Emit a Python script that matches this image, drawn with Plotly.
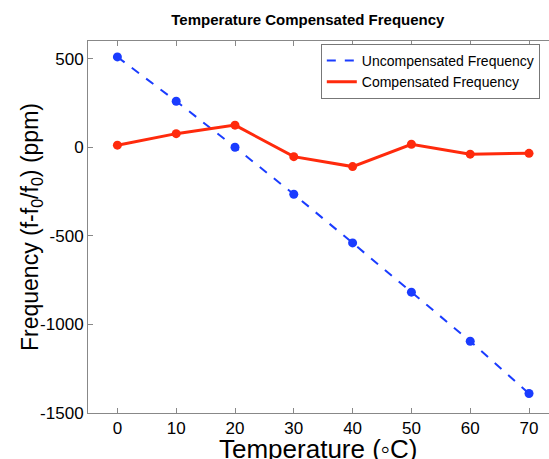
import plotly.graph_objects as go

temperature = [0, 10, 20, 30, 40, 50, 60, 70]
uncompensated = [510, 260, 0, -265, -540, -818, -1095, -1390]
compensated = [12, 77, 125, -53, -109, 17, -39, -34]

x_ticks = [0, 10, 20, 30, 40, 50, 60, 70]
y_ticks = [500, 0, -500, -1000, -1500]
y_tick_labels = ["500", "0", "-500", "-1000", "-1500"]

BLUE = "#1a3cff"
RED = "#ff2a0c"
FONT = "Liberation Sans, Arial, sans-serif"

fig = go.Figure()
fig.add_trace(go.Scatter(x=temperature, y=uncompensated, mode="lines+markers",
                         line=dict(color=BLUE, width=2, dash="dash"),
                         marker=dict(color=BLUE, size=9), showlegend=False))
fig.add_trace(go.Scatter(x=temperature, y=compensated, mode="lines+markers",
                         line=dict(color=RED, width=3),
                         marker=dict(color=RED, size=9), showlegend=False))
# legend-only entries (lines only)
fig.add_trace(go.Scatter(x=[None], y=[None], mode="lines", name="Uncompensated Frequency",
                         line=dict(color=BLUE, width=2, dash="dash")))
fig.add_trace(go.Scatter(x=[None], y=[None], mode="lines", name="Compensated Frequency",
                         line=dict(color=RED, width=3)))

fig.update_layout(
    width=549, height=459,
    margin=dict(l=88, r=0, t=41, b=46, autoexpand=False),
    paper_bgcolor="white", plot_bgcolor="white",
    font=dict(family=FONT, color="black"),
    title=dict(text="<b>Temperature Compensated Frequency</b>", font=dict(size=15),
               x=0.477, xref="paper", xanchor="center", y=1 - 20 / 459, yanchor="middle"),
    legend=dict(x=0.505, y=0.992, xanchor="left", yanchor="top",
                bordercolor="#777", borderwidth=1, bgcolor="white",
                font=dict(size=14), tracegroupgap=0, itemwidth=30),
    annotations=[
        dict(text="Frequency (f-f<sub>0</sub>/f<sub>0</sub>) (ppm)", textangle=-90,
             xref="paper", yref="paper", x=0, y=0.5, xshift=-57,
             xanchor="center", yanchor="middle", showarrow=False,
             font=dict(size=23)),
        dict(text="Temperature (\u25e6C)",
             xref="paper", yref="paper", x=0.5, y=0, yshift=-36,
             xanchor="center", yanchor="middle", showarrow=False,
             font=dict(size=26)),
    ],
)
fig.update_xaxes(range=[-5, 73.4], tickvals=x_ticks, ticks="inside", ticklen=5,
                 tickcolor="#888", showline=True, linecolor="#888", linewidth=1,
                 mirror="ticks", showgrid=False, zeroline=False, automargin=False,
                 tickfont=dict(size=17))
fig.update_yaxes(range=[-1500, 600], tickvals=y_ticks, ticktext=y_tick_labels,
                 ticks="inside", ticklen=5,
                 tickcolor="#888", showline=True, linecolor="#888", linewidth=1,
                 showgrid=False, zeroline=False, automargin=False,
                 tickfont=dict(size=17))

fig.write_html(
    "out.html",
    config={"displayModeBar": False},
    post_script="document.body.style.margin='0';document.body.style.overflow='hidden';",
)
